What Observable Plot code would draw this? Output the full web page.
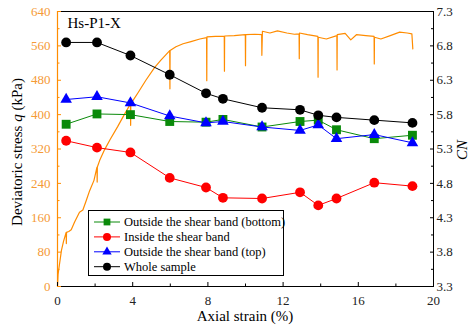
<!DOCTYPE html>
<html>
<head>
<meta charset="utf-8">
<script src="https://cdn.jsdelivr.net/npm/d3@7"></script>
<script src="https://cdn.jsdelivr.net/npm/@observablehq/plot@0.6"></script>
<style>
  html, body { margin: 0; padding: 0; background: white; }
  #chart svg { display: block; }
</style>
</head>
<body>
<div id="chart"></div>
<script>
// ---- Data ----
// Stress-strain curve (axial strain %, deviatoric stress kPa)
const curveStrain = [0, 0.03, 0.11, 0.21, 0.32, 0.46, 0.47, 0.48, 0.6, 0.73, 0.91, 1.17, 1.35, 1.53, 1.71, 1.94, 2.1, 2.11, 2.12, 2.24, 2.5, 2.8, 3.2, 3.5, 3.88, 3.89, 3.9, 4.3, 4.7, 5.17, 5.5, 5.97, 5.98, 5.99, 6.3, 6.68, 7.1, 7.57, 7.93, 7.94, 7.95, 8.4, 8.87, 8.88, 8.89, 9.4, 9.99, 10.0, 10.01, 10.5, 10.86, 10.87, 10.9, 11.3, 11.7, 12.2, 12.6, 12.85, 12.86, 12.87, 13.3, 13.85, 13.86, 13.87, 14.3, 14.86, 14.87, 14.88, 15.3, 15.6, 15.9, 16.4, 16.84, 16.85, 16.86, 17.2, 17.7, 18.2, 18.6, 18.85, 18.9];
const curveStress = [0, 28, 53, 84, 105, 126, 100, 126, 128, 132, 150, 173, 178, 200, 223, 247, 278, 243, 278, 293, 318, 342, 372, 396, 425, 375, 425, 452, 480, 510, 527, 549, 460, 549, 558, 565, 570, 576, 579, 479, 581, 582, 582, 501, 583, 584, 586, 514, 586, 587, 586, 538, 594, 590, 595, 590, 587, 588, 530, 590, 586, 582, 487, 580, 576, 584, 504, 586, 589, 574, 586, 584, 582, 518, 580, 576, 584, 592, 590, 588, 553];

// CN at CT scan strains
const ctStrain = [0.46, 2.1, 3.88, 5.97, 7.9, 8.8, 10.88, 12.9, 13.87, 14.84, 16.85, 18.88];
const cnBottom = [5.66, 5.81, 5.80, 5.70, 5.69, 5.73, 5.62, 5.70, 5.72, 5.58, 5.45, 5.50];
const cnInside = [5.42, 5.32, 5.25, 4.88, 4.74, 4.59, 4.58, 4.67, 4.48, 4.58, 4.81, 4.76];
const cnTop    = [6.02, 6.06, 5.97, 5.78, 5.68, 5.70, 5.62, 5.57, 5.65, 5.45, 5.51, 5.39];
const cnWhole  = [6.85, 6.85, 6.66, 6.38, 6.11, 6.03, 5.90, 5.87, 5.79, 5.76, 5.72, 5.68];

const seriesNames = ["Outside the shear band (bottom)", "Inside the shear band", "Outside the shear band (top)", "Whole sample"];
const seriesColors = ["#0a8a0a", "#ff0000", "#0000ff", "#000000"];
const seriesSymbols = ["square", "circle", "triangle", "circle"];
const seriesValues = [cnBottom, cnInside, cnTop, cnWhole];

const qTicks = [0, 80, 160, 240, 320, 400, 480, 560, 640];
const qMinor = [40, 120, 200, 280, 360, 440, 520, 600];
const xTicks = [0, 4, 8, 12, 16, 20];
const xMinor = [2, 6, 10, 14, 18];
const cnTicks = [3.3, 3.8, 4.3, 4.8, 5.3, 5.8, 6.3, 6.8, 7.3];
const cnMinor = [3.55, 4.05, 4.55, 5.05, 5.55, 6.05, 6.55, 7.05];

// ---- Build ----
const CN0 = 3.3, CN_TO_Q = 160; // right axis 3.3..7.3 maps to 0..640
const toQ = c => (c - CN0) * CN_TO_Q;

const curve = curveStrain.map((s, i) => ({s, q: curveStress[i]}));
const pts = [];
seriesValues.forEach((vals, k) => vals.forEach((v, i) => pts.push({series: seriesNames[k], k, s: ctStrain[i], cn: v})));

const orange = "#ff8c00";
const labelOrange = "#f59a36";
const font = "'Liberation Serif', 'Times New Roman', serif";
const dotR = {square: 5.0, circle: 4.9, triangle: 4.3};
const legSize = {square: 46, circle: 50, triangle: 38};

const marks = [
  Plot.line(curve, {x: "s", y: "q", stroke: orange, strokeWidth: 1.2})
];
seriesNames.forEach((name, k) => {
  const d = pts.filter(p => p.k === k);
  marks.push(Plot.line(d, {x: "s", y: p => toQ(p.cn), stroke: seriesColors[k], strokeWidth: 1}));
  marks.push(Plot.dot(d, {x: "s", y: p => toQ(p.cn), fill: seriesColors[k], stroke: "none",
    symbol: seriesSymbols[k], r: dotR[seriesSymbols[k]]}));
});
marks.push(
  Plot.frame({stroke: "black", strokeWidth: 1}),
  Plot.ruleX([0], {stroke: orange, strokeWidth: 1.2}),
  // left axis (stress)
  Plot.axisY({anchor: "left", ticks: qTicks, tickSize: -4, tickPadding: 11, color: labelOrange, stroke: orange, fontSize: 13, label: null}),
  Plot.axisY({anchor: "left", ticks: qMinor, tickSize: -2.5, tickFormat: () => "", stroke: orange, label: null}),
  // bottom axis
  Plot.axisX({anchor: "bottom", ticks: xTicks, tickSize: -4, tickPadding: 13, fontSize: 13, color: "#222", stroke: "black", label: null}),
  Plot.axisX({anchor: "bottom", ticks: xMinor, tickSize: -2.5, tickFormat: () => "", stroke: "black", label: null}),
  // right axis (CN)
  Plot.axisY({anchor: "right", ticks: cnTicks.map(toQ), tickSize: -4, tickPadding: 7, fontSize: 13, color: "#222", stroke: "black",
    tickFormat: q => (q / CN_TO_Q + CN0).toFixed(1), label: null}),
  Plot.axisY({anchor: "right", ticks: cnMinor.map(toQ), tickSize: -3, tickFormat: () => "", stroke: "black", label: null}),
  Plot.text(["Hs-P1-X"], {frameAnchor: "top-left", dx: 10, dy: 6, fontSize: 15, fill: "black", lineAnchor: "top", textAnchor: "start"})
);

const chart = Plot.plot({
  width: 469, height: 327,
  marginLeft: 57, marginRight: 36, marginTop: 11, marginBottom: 41,
  style: {fontFamily: font, fontSize: "13px", background: "white", color: "black", overflow: "visible"},
  x: {domain: [0, 20]},
  y: {domain: [0, 640]},
  marks
});
document.getElementById("chart").appendChild(chart);

// ---- Titles & legend ----
const svg = d3.select(chart);
const yl = svg.append("text")
  .attr("transform", "translate(22,152) rotate(-90)")
  .attr("text-anchor", "middle")
  .style("font-family", font).style("font-size", "15px").attr("fill", "black");
yl.append("tspan").text("Deviatoric stress ");
yl.append("tspan").style("font-style", "italic").text("q");
yl.append("tspan").text(" (kPa)");

svg.append("text")
  .attr("transform", "translate(245,321)")
  .attr("text-anchor", "middle")
  .style("font-family", font).style("font-size", "15px").attr("fill", "black")
  .text("Axial strain (%)");

svg.append("text")
  .attr("transform", "translate(467,150) rotate(-90)")
  .attr("text-anchor", "middle")
  .style("font-family", font).style("font-size", "15px").style("font-style", "italic").attr("fill", "black")
  .text("CN");

const lg = svg.append("g").attr("text-anchor", "start");
lg.append("rect").attr("x", 88.5).attr("y", 210.5).attr("width", 195).attr("height", 65)
  .attr("fill", "white").attr("stroke", "black").attr("stroke-width", 1);
const symMap = {square: d3.symbolSquare, circle: d3.symbolCircle, triangle: d3.symbolTriangle};
seriesNames.forEach((name, k) => {
  const y = 222 + k * 14.9;
  lg.append("line").attr("x1", 94).attr("x2", 120).attr("y1", y).attr("y2", y)
    .attr("stroke", seriesColors[k]).attr("stroke-width", 1);
  lg.append("path").attr("transform", `translate(107,${y})`)
    .attr("d", d3.symbol(symMap[seriesSymbols[k]], legSize[seriesSymbols[k]])())
    .attr("fill", seriesColors[k]);
  lg.append("text").attr("x", 124).attr("y", y + 4.3).attr("text-anchor", "start")
    .style("font-family", font).style("font-size", "12.5px").attr("fill", "black")
    .text(name);
});
</script>
</body>
</html>
